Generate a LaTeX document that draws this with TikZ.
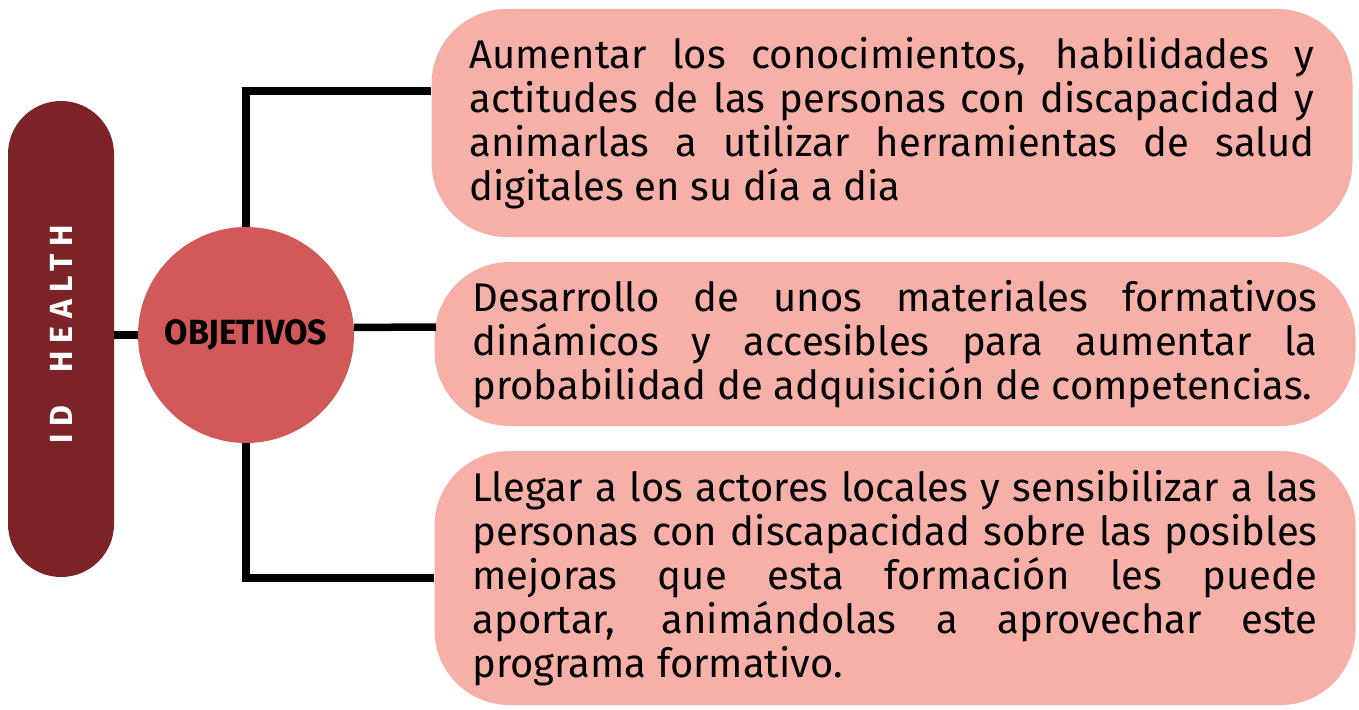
\documentclass[tikz,border=0pt]{standalone}
\usepackage{fontspec}
\setmainfont{Fira Sans}
\usepackage{tikz}
\definecolor{pillred}{RGB}{123, 35, 38}
\definecolor{circred}{RGB}{209, 89, 89}
\definecolor{boxpink}{RGB}{246, 176, 168}

\begin{document}
\begin{tikzpicture}[x=1pt, y=-1pt,
	goal/.style={rectangle, rounded corners=75pt, fill=boxpink, text width=845pt, align=justify,
		inner xsep=38pt, inner ysep=0pt, font=\fontsize{40}{44}\selectfont},
	link/.style={line width=7.5pt}]
			\useasboundingbox (0,0) rectangle (1359,709);
			\node (idh) at (61,339) [rectangle, rounded corners=53pt, fill=pillred, minimum width=476pt, minimum height=106pt, rotate=90, text=white, font={\fontsize{32}{32}\selectfont\bfseries\addfontfeature{LetterSpace=24}}] {\hspace*{18pt}ID\hspace{18pt} HEALTH\hspace*{8pt}};
			\node (obj) at (246,335) [circle, fill=circred, minimum size=216pt, inner sep=0pt, font={\fontsize{35}{35}\selectfont\bfseries\addfontfeature{FakeStretch=0.97}}] {OBJETIVOS};
			\node (b1) at (892,123) [goal, minimum height=228pt] {Aumentar los conocimientos, habilidades y\linebreak actitudes de las personas con discapacidad y\linebreak animarlas a utilizar herramientas de salud\linebreak digitales en su día a dia};
			\node (b2) at (895,344) [goal, minimum height=164pt] {Desarrollo de unos materiales formativos\linebreak dinámicos y accesibles para aumentar la\linebreak probabilidad de adquisición de competencias.};
			\node (b3) at (895,578) [goal, minimum height=254pt] {Llegar a los actores locales y sensibilizar a las\linebreak personas con discapacidad sobre las posibles\linebreak mejoras que esta formación les puede\linebreak aportar, animándolas a aprovechar este\linebreak programa formativo.};
			\coordinate (j1) at (431,91);
			\coordinate (j2) at (436,327);
			\draw[link] (obj.west -| idh.south) -- (obj.west);
			\draw[link] (obj.north) |- (j1);
			\draw[link] (obj.4) -- (j2);
			\draw[link] (obj.south) |- (b3.west);
\end{tikzpicture}
\end{document}
